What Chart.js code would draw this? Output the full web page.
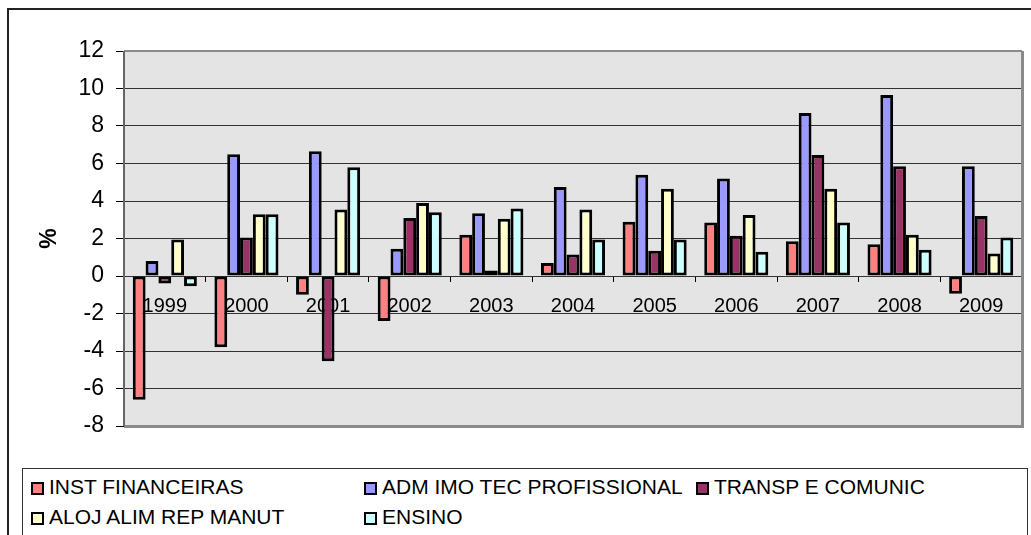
<!DOCTYPE html>
<html>
<head>
<meta charset="utf-8">
<script src="https://cdn.jsdelivr.net/npm/chart.js@4.4.1/dist/chart.umd.min.js"></script>
<style>
  html, body { margin: 0; padding: 0; background: #fff; overflow: hidden; }
  #wrap { position: relative; width: 1031px; height: 535px; overflow: hidden; }
  #outer { position: absolute; left: 7px; top: 8px; width: 1100px; height: 700px; border: 2px solid #222; box-sizing: border-box; }
  canvas { position: absolute; left: 0; top: 0; }
  #legend { position: absolute; left: 22px; top: 468px; width: 1006px; height: 120px; border: 1px solid #333; box-sizing: border-box; background: #fff; }
  .item { position: absolute; font-family: "Liberation Sans", Arial, sans-serif; font-size: 21px; color: #000; white-space: nowrap; line-height: 22px; }
  .sw { position: absolute; left: 0; top: 5px; width: 9px; height: 9px; border: 2px solid #000; }
  .lbl { position: absolute; left: 18px; top: 0; transform: scaleY(0.92); transform-origin: 0 50%; }
</style>
</head>
<body>
<div id="wrap">
  <div id="outer"></div>
  <canvas id="c" width="1031" height="535"></canvas>
  <div id="legend"></div>
</div>
<script>
const categories = ['1999','2000','2001','2002','2003','2004','2005','2006','2007','2008','2009'];
const seriesNames = ['INST FINANCEIRAS','ADM IMO TEC PROFISSIONAL','TRANSP E COMUNIC','ALOJ ALIM REP MANUT','ENSINO'];
const instFinanceiras      = [-6.6, -3.8, -1.0, -2.4, 2.2, 0.7, 2.9, 2.85, 1.85, 1.7, -0.95];
const admImoTecProfissional = [0.8, 6.5, 6.65, 1.45, 3.35, 4.75, 5.4, 5.2, 8.7, 9.65, 5.85];
const transpEComunic       = [-0.4, 2.05, -4.55, 3.1, 0.3, 1.15, 1.35, 2.15, 6.45, 5.85, 3.2];
const alojAlimRepManut     = [1.95, 3.3, 3.55, 3.9, 3.05, 3.55, 4.65, 3.25, 4.65, 2.2, 1.2];
const ensino               = [-0.55, 3.3, 5.8, 3.4, 3.6, 1.95, 1.95, 1.3, 2.85, 1.4, 2.05];
const seriesColors = ['#FF8080','#9999FF','#993366','#FFFFCC','#CCFFFF'];
const yTicks = [-8,-6,-4,-2,0,2,4,6,8,10,12];

const seriesValues = [instFinanceiras, admImoTecProfissional, transpEComunic, alojAlimRepManut, ensino];

const plotBg = {
  id: 'plotBg',
  beforeDraw(chart) {
    const {ctx, chartArea: a} = chart;
    ctx.save();
    ctx.fillStyle = '#E4E4E4';
    ctx.fillRect(a.left, a.top, a.right - a.left, a.bottom - a.top);
    ctx.restore();
  },
  afterDatasetsDraw(chart) {
    const {ctx, chartArea: a} = chart;
    ctx.save();
    ctx.strokeStyle = '#8a8a8a';
    ctx.lineWidth = 2;
    ctx.beginPath();
    ctx.moveTo(a.left, a.top); ctx.lineTo(a.right, a.top);
    ctx.stroke();
    ctx.lineWidth = 3;
    ctx.beginPath();
    ctx.moveTo(a.right + 0.5, a.top); ctx.lineTo(a.right + 0.5, a.bottom + 0.5); ctx.lineTo(a.left, a.bottom + 0.5);
    ctx.stroke();
    ctx.strokeStyle = '#666';
    ctx.lineWidth = 2;
    ctx.beginPath();
    ctx.moveTo(a.left, a.top); ctx.lineTo(a.left, a.bottom);
    ctx.stroke();
    ctx.restore();
  }
};

new Chart(document.getElementById('c'), {
  type: 'bar',
  data: {
    labels: categories,
    datasets: seriesNames.map((n, i) => ({
      label: n,
      data: seriesValues[i],
      backgroundColor: seriesColors[i],
      borderColor: '#000',
      borderWidth: 3,
      borderSkipped: false,
      categoryPercentage: 0.785,
      barPercentage: 1.0
    }))
  },
  options: {
    responsive: false,
    animation: false,
    layout: { padding: { left: 0, top: 51, right: 9, bottom: 109 } },
    plugins: { legend: { display: false }, tooltip: { enabled: false } },
    scales: {
      x: {
        position: { y: 0 },
        grid: { drawOnChartArea: false, drawTicks: true, tickLength: 6, color: '#000', offset: true },
        border: { display: false },
        ticks: { color: '#000', font: { family: 'Liberation Sans', size: 20 }, padding: 12, maxRotation: 0 }
      },
      y: {
        min: -8, max: 12,
        afterBuildTicks(scale) { scale.ticks = yTicks.map(v => ({ value: v })); },
        afterFit(scale) { scale.width = 124; },
        grid: { color: '#333', lineWidth: 1, tickLength: 8, tickColor: '#000' },
        border: { display: false },
        ticks: { color: '#000', font: { family: 'Liberation Sans', size: 23 }, padding: 12 },
        title: { display: true, text: '%', color: '#000', font: { family: 'Liberation Sans', size: 23, weight: 'bold' }, padding: { top: 36, bottom: 0 } }
      }
    }
  },
  plugins: [plotBg]
});

// HTML legend built from series arrays
const legend = document.getElementById('legend');
const legendPos = [[8, 8], [341, 8], [673, 8], [8, 38], [341, 38]];
seriesNames.forEach((n, i) => {
  const it = document.createElement('div');
  it.className = 'item';
  it.style.left = legendPos[i][0] + 'px';
  it.style.top = legendPos[i][1] + 'px';
  const sw = document.createElement('div');
  sw.className = 'sw';
  sw.style.background = seriesColors[i];
  const lb = document.createElement('div');
  lb.className = 'lbl';
  lb.textContent = n;
  it.appendChild(sw); it.appendChild(lb);
  legend.appendChild(it);
});
</script>
</body>
</html>
